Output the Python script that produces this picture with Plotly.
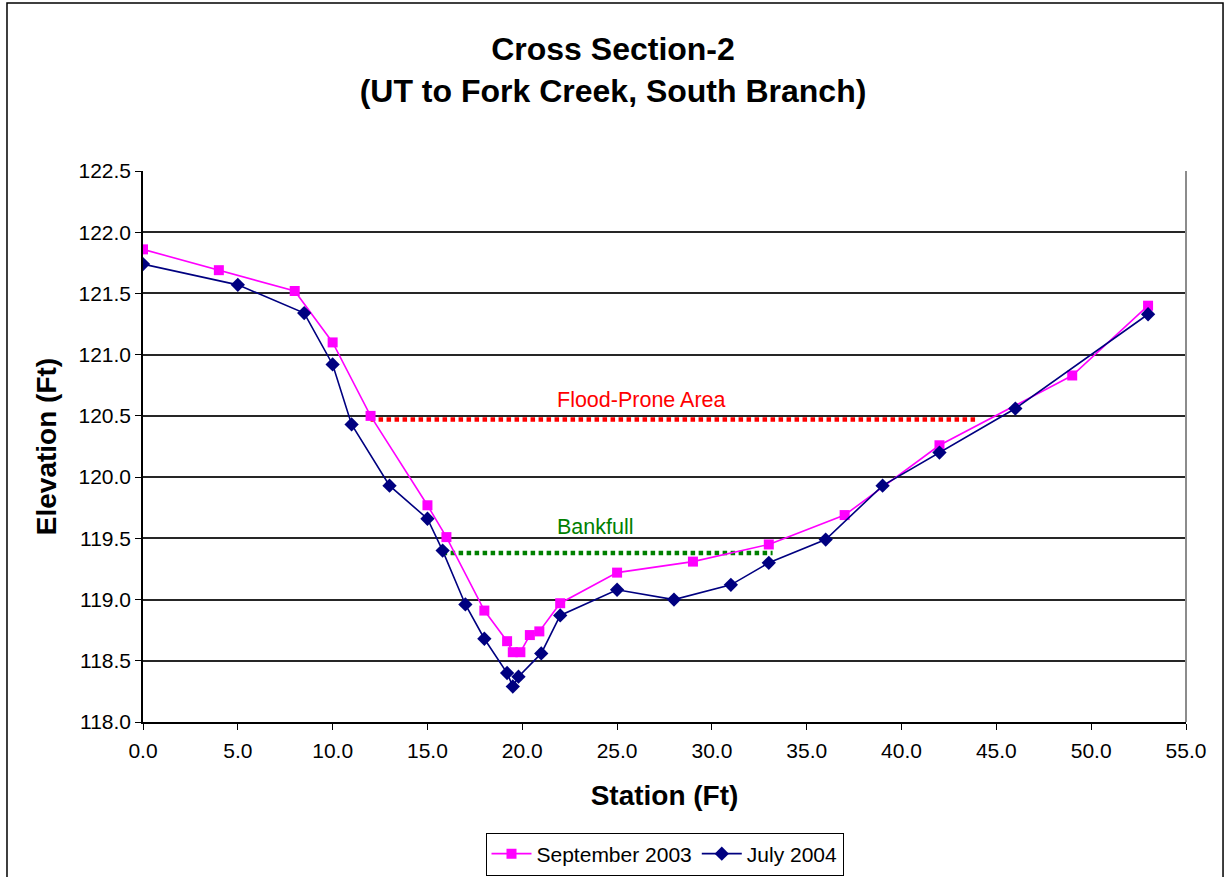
import plotly.graph_objects as go

# Survey stations (ft) and bed elevations (ft) for each survey
sep2003_station = [0, 4, 8, 10, 12, 15, 16, 18, 19.2, 19.5, 19.9, 20.4, 20.9, 22, 25, 29, 33, 37, 42, 49, 53]
sep2003_elev = [121.86, 121.69, 121.52, 121.10, 120.50, 119.77, 119.51, 118.91, 118.66, 118.57, 118.57,
                118.71, 118.74, 118.97, 119.22, 119.31, 119.45, 119.69, 120.26, 120.83, 121.40]

jul2004_station = [0, 5, 8.5, 10, 11, 13, 15, 15.8, 17, 18, 19.2, 19.5, 19.8, 21, 22, 25, 28, 31, 33, 36,
                   39, 42, 46, 53]
jul2004_elev = [121.74, 121.57, 121.34, 120.92, 120.43, 119.93, 119.66, 119.40, 118.96, 118.68, 118.40,
                118.29, 118.37, 118.56, 118.87, 119.08, 119.00, 119.12, 119.30, 119.49, 119.93, 120.20,
                120.56, 121.33]

# Reference water levels
flood_prone_station = [12, 44]
flood_prone_elev = [120.47, 120.47]
bankfull_station = [15.8, 33.2]
bankfull_elev = [119.38, 119.38]

# Label anchors
flood_label_pos = (26.3, 120.63)
bankfull_label_pos = (23.85, 119.59)

FONT = "Liberation Sans, Arial, sans-serif"

fig = go.Figure()

fig.add_trace(go.Scatter(
    x=flood_prone_station, y=flood_prone_elev, mode="lines",
    line=dict(color="#FF0000", width=4.5, dash="4.5px,3.5px"),
    showlegend=False, hoverinfo="skip"))
fig.add_trace(go.Scatter(
    x=bankfull_station, y=bankfull_elev, mode="lines",
    line=dict(color="#008000", width=4.5, dash="4.5px,3.5px"),
    showlegend=False, hoverinfo="skip"))

fig.add_trace(go.Scatter(
    x=sep2003_station, y=sep2003_elev, mode="lines+markers", name="September 2003",
    line=dict(color="#FF00FF", width=1.6),
    marker=dict(symbol="square", size=10, color="#FF00FF")))
fig.add_trace(go.Scatter(
    x=jul2004_station, y=jul2004_elev, mode="lines+markers", name="July 2004",
    line=dict(color="#000080", width=1.6),
    marker=dict(symbol="diamond", size=11, color="#000080")))

fig.add_annotation(x=flood_label_pos[0], y=flood_label_pos[1], text="Flood-Prone Area",
                   showarrow=False, font=dict(family=FONT, size=21.5, color="#FF0000"))
fig.add_annotation(x=bankfull_label_pos[0], y=bankfull_label_pos[1], text="Bankfull",
                   showarrow=False, font=dict(family=FONT, size=21.5, color="#008000"))

# Chart frame and right edge of the plotting area
fig.add_shape(type="rect", xref="paper", yref="paper", x0=-0.1304, x1=1.0355, y0=-0.35, y1=1.3049,
              line=dict(color="black", width=1.5), layer="below")
fig.add_shape(type="line", xref="paper", yref="paper", x0=1, x1=1, y0=0, y1=1,
              line=dict(color="#8c8c8c", width=2))

fig.update_layout(
    width=1226, height=877,
    margin=dict(l=143, r=40, t=171, b=155, autoexpand=False),
    paper_bgcolor="white", plot_bgcolor="white",
    font=dict(family=FONT, color="black"),
    title=dict(text="<b>Cross Section-2<br>(UT to Fork Creek, South Branch)</b>",
               x=0.5, xanchor="center", y=1 - 60 / 877, yanchor="top", automargin=False,
               font=dict(family=FONT, size=32, color="black")),
    legend=dict(orientation="h", x=0.5, xanchor="center", y=-0.2396, yanchor="middle",
                bordercolor="black", borderwidth=1, bgcolor="white",
                font=dict(family=FONT, size=21, color="black"), itemwidth=40),
    xaxis=dict(range=[0, 55], dtick=5, tick0=0, tickformat=".1f", automargin=False,
               showgrid=False, zeroline=False, showline=True, linecolor="black", linewidth=1.5,
               ticks="outside", ticklen=6, tickcolor="black", tickwidth=1, ticklabelstandoff=3,
               tickfont=dict(family=FONT, size=21, color="black"),
               title=dict(text="<b>Station (Ft)</b>", standoff=24,
                          font=dict(family=FONT, size=28, color="black"))),
    yaxis=dict(range=[118, 122.5], dtick=0.5, tick0=118, tickformat=".1f", automargin=False,
               showgrid=True, gridcolor="#262626", gridwidth=2,
               zeroline=False, showline=True, linecolor="black", linewidth=1.5,
               ticks="outside", ticklen=6, tickcolor="black", tickwidth=1,
               tickfont=dict(family=FONT, size=21, color="black"),
               title=dict(text="<b>Elevation (Ft)</b>", standoff=14,
                          font=dict(family=FONT, size=28, color="black"))),
)

fig.write_html("out.html")
